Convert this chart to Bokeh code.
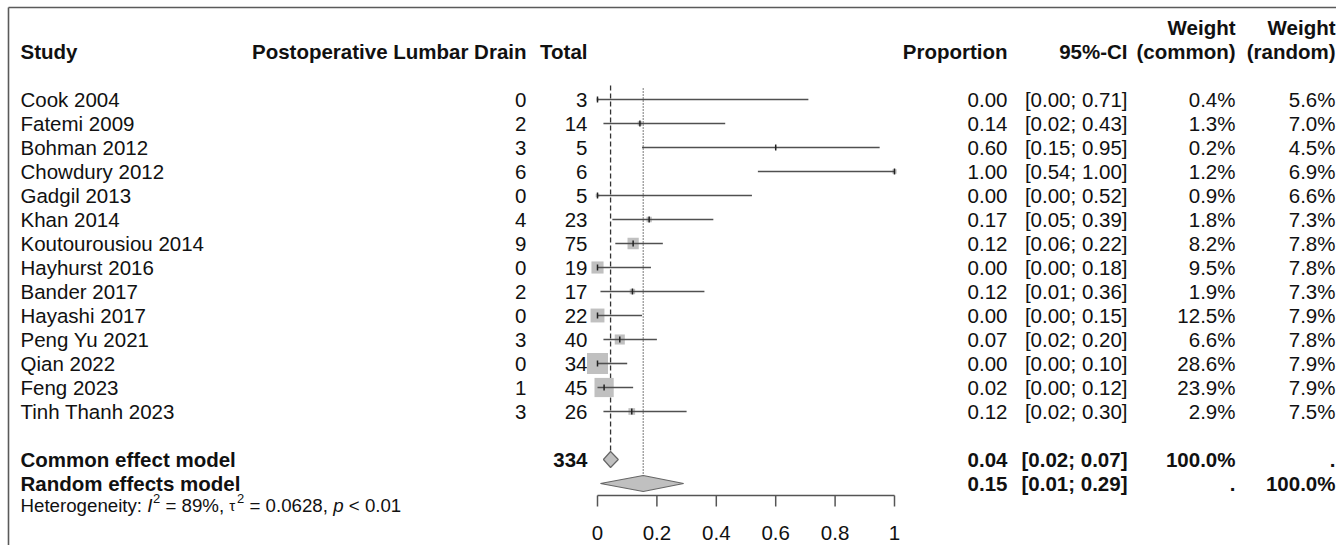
from bokeh.plotting import figure
from bokeh.models import Range1d
from bokeh.core.properties import value
from bokeh.embed import file_html
from bokeh.resources import INLINE
import numpy as np

# ---------------- data ----------------
studies = ["Cook 2004", "Fatemi 2009", "Bohman 2012", "Chowdury 2012", "Gadgil 2013",
           "Khan 2014", "Koutourousiou 2014", "Hayhurst 2016", "Bander 2017", "Hayashi 2017",
           "Peng Yu 2021", "Qian 2022", "Feng 2023", "Tinh Thanh 2023"]
events = [0, 2, 3, 6, 0, 4, 9, 0, 2, 0, 3, 0, 1, 3]
totals = [3, 14, 5, 6, 5, 23, 75, 19, 17, 22, 40, 34, 45, 26]
ci_low = [0.00, 0.02, 0.15, 0.54, 0.00, 0.05, 0.06, 0.00, 0.01, 0.00, 0.02, 0.00, 0.00, 0.02]
ci_up = [0.71, 0.43, 0.95, 1.00, 0.52, 0.39, 0.22, 0.18, 0.36, 0.15, 0.20, 0.10, 0.12, 0.30]
w_common = [0.4, 1.3, 0.2, 1.2, 0.9, 1.8, 8.2, 9.5, 1.9, 12.5, 6.6, 28.6, 23.9, 2.9]
w_random = [5.6, 7.0, 4.5, 6.9, 6.6, 7.3, 7.8, 7.8, 7.3, 7.9, 7.8, 7.9, 7.9, 7.5]

pooled_names = ["Common effect model", "Random effects model"]
pooled_est = [0.044, 0.154]
pooled_low = [0.02, 0.01]
pooled_up = [0.07, 0.29]
pooled_total = 334
pooled_wc = ["100.0%", "."]
pooled_wr = [".", "100.0%"]

het_I2 = "89%"
het_tau2 = "0.0628"
het_p = "< 0.01"

axis_ticks = [0, 0.2, 0.4, 0.6, 0.8, 1]
axis_labels = ["0", "0.2", "0.4", "0.6", "0.8", "1"]

# ---------------- layout constants ----------------
W, H = 1336, 545
ROW0, ROWH = 99, 24
FONT = value("Liberation Sans")
FS = "20.5px"
X0PIX, X1PIX = 597, 894
ppu = X1PIX - X0PIX

props = [e / n for e, n in zip(events, totals)]
rows = [ROW0 + ROWH * i for i in range(len(studies))]
prow = [ROW0 + ROWH * (len(studies) + 1 + i) for i in range(2)]

p = figure(width=W, height=H, output_backend="svg", toolbar_location=None,
           x_range=Range1d(0, W), y_range=Range1d(H, 0), min_border=0,
           outline_line_color=None)
p.xaxis.visible = False
p.yaxis.visible = False
p.xgrid.visible = False
p.ygrid.visible = False
p.extra_x_ranges = {"prop": Range1d(-X0PIX / ppu, (W - X0PIX) / ppu)}

# frame lines (top / left)
p.segment(x0=[8, 8], y0=[7, 7], x1=[W, 8], y1=[7, H], line_color="#5a5a5a", line_width=1.6)

def txt(x, y, t, align="left", bold=False, size=FS, italic=False, color="#111111"):
    style = "bold" if bold else ("italic" if italic else "normal")
    p.text(x=x, y=y, text=t, text_align=align, text_baseline="middle",
           text_font=FONT, text_font_size=size, text_font_style=style, text_color=color)

# headers
txt([20], [ROW0 - 48], ["Study"], bold=True)
txt([526], [ROW0 - 48], ["Postoperative Lumbar Drain"], align="right", bold=True)
txt([587], [ROW0 - 48], ["Total"], align="right", bold=True)
txt([1007], [ROW0 - 48], ["Proportion"], align="right", bold=True)
txt([1127], [ROW0 - 48], ["95%-CI"], align="right", bold=True)
txt([1235, 1335], [ROW0 - 72] * 2, ["Weight", "Weight"], align="right", bold=True)
txt([1235, 1335], [ROW0 - 48] * 2, ["(common)", "(random)"], align="right", bold=True)

# study rows text
n = len(studies)
txt([20] * n, rows, studies)
txt([526] * n, rows, [str(e) for e in events], align="right")
txt([587] * n, rows, [str(t) for t in totals], align="right")
txt([1007] * n, rows, ["%.2f" % v for v in props], align="right")
txt([1127] * n, rows, ["[%.2f; %.2f]" % (a, b) for a, b in zip(ci_low, ci_up)], align="right")
txt([1235] * n, rows, ["%.1f%%" % w for w in w_common], align="right")
txt([1335] * n, rows, ["%.1f%%" % w for w in w_random], align="right")

# pooled rows text
txt([20, 20], prow, pooled_names, bold=True)
txt([587], [prow[0]], [str(pooled_total)], align="right", bold=True)
txt([1007, 1007], prow, ["%.2f" % v for v in pooled_est], align="right", bold=True)
txt([1127, 1127], prow, ["[%.2f; %.2f]" % (a, b) for a, b in zip(pooled_low, pooled_up)],
    align="right", bold=True)
txt([1235, 1235], prow, pooled_wc, align="right", bold=True)
txt([1335, 1335], prow, pooled_wr, align="right", bold=True)

# heterogeneity line, pieces laid out with Arial metrics
AW = {' ': 278, ':': 278, 'H': 722, 'e': 556, 't': 278, 'r': 333, 'o': 556, 'g': 556,
      'n': 556, 'i': 222, 'y': 500, 'I': 278, '=': 584, '%': 889, ',': 278, '.': 278,
      'p': 556, '<': 584, '\u03c4': 480}
def tw(s, size):
    return sum(AW.get(c, 556) for c in s) * size / 1000.0

hs = 18.7
ss = 13.0
hy = prow[1] + 22
sp = tw(" ", hs)
# (text, size, italic, dy, gap_before)
pieces = [("Heterogeneity:", hs, False, 0, 0), ("I", hs, True, 0, sp), ("2", ss, False, -7, 0.5),
          ("= " + het_I2 + ",", hs, False, 0, sp), ("\u03c4", 15.0, False, 0, sp),
          ("2", ss, False, -7, 0.5), ("= " + het_tau2 + ",", hs, False, 0, sp),
          ("p", hs, True, 0, sp), (het_p, hs, False, 0, sp)]
cx = 20.0
for s, sz, it, dy, gap in pieces:
    cx += gap
    txt([cx], [hy + dy], [s], size="%.1fpx" % sz, italic=it)
    cx += tw(s, sz)

# reference lines for pooled estimates
p.segment(x0=[pooled_est[0]], y0=[ROW0 - 14], x1=[pooled_est[0]], y1=[prow[0] - 8],
          x_range_name="prop", line_color="#333333", line_width=1.3, line_dash="5 3")
p.segment(x0=[pooled_est[1]], y0=[ROW0 - 11], x1=[pooled_est[1]], y1=[prow[1] - 8],
          x_range_name="prop", line_color="#333333", line_width=1.3, line_dash="1 2")

# squares
sizes = [3.93 * np.sqrt(w) for w in w_common]
p.scatter(x=props, y=rows, size=sizes, marker="square", x_range_name="prop",
          fill_color="#c0c0c0", line_color=None)
# CI lines
p.segment(x0=ci_low, y0=rows, x1=ci_up, y1=rows, x_range_name="prop",
          line_color="#505050", line_width=1.6)
# point ticks
p.segment(x0=props, y0=[r - 3 for r in rows], x1=props, y1=[r + 3 for r in rows],
          x_range_name="prop", line_color="#222222", line_width=1.5)

# diamonds
dh = 8
xs = [[lo, e, up, e] for lo, e, up in zip(pooled_low, pooled_est, pooled_up)]
ys = [[r, r - dh, r, r + dh] for r in prow]
p.patches(xs=xs, ys=ys, x_range_name="prop", fill_color="#c0c0c0",
          line_color="#666666", line_width=1.2)

# axis
ay = 495
p.segment(x0=[axis_ticks[0]], y0=[ay], x1=[axis_ticks[-1]], y1=[ay], x_range_name="prop",
          line_color="#555555", line_width=1.5)
p.segment(x0=axis_ticks, y0=[ay] * len(axis_ticks), x1=axis_ticks,
          y1=[ay + 11] * len(axis_ticks), x_range_name="prop",
          line_color="#555555", line_width=1.5)
p.text(x=axis_ticks, y=[ay + 37] * len(axis_ticks), text=axis_labels, x_range_name="prop",
       text_align="center", text_baseline="middle", text_font=FONT, text_font_size=FS,
       text_color="#111111")

open("out.html", "w").write(file_html(p, INLINE))
